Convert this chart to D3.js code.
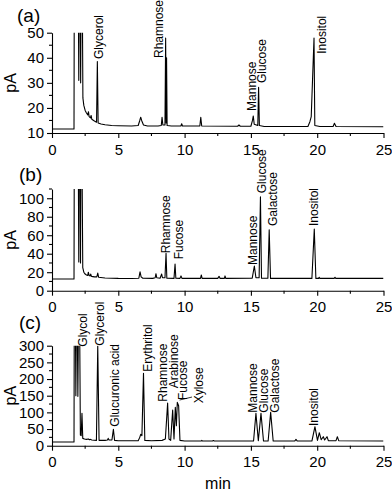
<!DOCTYPE html>
<html>
<head>
<meta charset="utf-8">
<script src="https://cdn.jsdelivr.net/npm/d3@7"></script>
<style>
  body { margin: 0; background: #fff; }
  text { font-family: Arial, 'Liberation Sans', sans-serif; fill: #000; }
</style>
</head>
<body>
<svg id="chart" width="392" height="491"></svg>
<script>
// x axis (min)
const xTicks = [0, 5, 10, 15, 20, 25]

// (a) trace: [min, pA]
const traceA = [
  [0, 11.6], [1.66, 11.6], [1.68, 70], [1.98, 70], [2.02, 31], [2.06, 70], [2.13, 70], [2.16, 30],
  [2.2, 70], [2.28, 70], [2.33, 24], [2.4, 21], [2.5, 19], [2.6, 18], [2.7, 17.2], [2.75, 18.5],
  [2.8, 16.5], [2.9, 16], [2.95, 17], [3.0, 15.5], [3.2, 14.8], [3.36, 14.3], [3.42, 38.5], [3.48, 14],
  [3.7, 13.6], [4.0, 13.3], [4.5, 13], [5, 12.9], [6, 12.8], [6.5, 13], [6.62, 15], [6.69, 16.3],
  [6.76, 15], [6.9, 13.2], [7.2, 12.8], [8.0, 12.8], [8.24, 13], [8.3, 16.3], [8.36, 13.2], [8.52, 13.2],
  [8.57, 47.9], [8.61, 14], [8.64, 40], [8.68, 13], [9.0, 12.8], [9.72, 12.8], [9.78, 13.7], [9.84, 12.8],
  [11.15, 12.8], [11.22, 16.3], [11.29, 12.8], [14.0, 12.7], [14.1, 13.2], [14.2, 12.7], [15.0, 12.7],
  [15.12, 15], [15.18, 16.8], [15.25, 13.5], [15.52, 13], [15.58, 28.2], [15.64, 13], [16, 12.6],
  [19.3, 12.6], [19.45, 14.5], [19.55, 16.5], [19.76, 47.9], [19.82, 13], [20.2, 12.6], [21.2, 12.6],
  [21.3, 13.9], [21.42, 12.6], [25, 12.5]
]
const labelsA = [
  { name: 'Glycerol', t: 3.85, v: 39.5 },
  { name: 'Rhamnose', t: 8.37, v: 39.9 },
  { name: 'Mannose', t: 15.35, v: 18.8 },
  { name: 'Glucose', t: 16.14, v: 29.9 },
  { name: 'Inositol', t: 20.7, v: 41.6 }
]

// (b) trace
const traceB = [
  [0, 12.7], [1.66, 12.7], [1.68, 150], [1.98, 150], [2.02, 31], [2.05, 150], [2.12, 150], [2.15, 30],
  [2.18, 150], [2.26, 150], [2.32, 25], [2.4, 20], [2.5, 18], [2.6, 17], [2.7, 16.5], [2.74, 20],
  [2.8, 16.5], [2.88, 16], [2.92, 18], [2.98, 15.5], [3.2, 15], [3.38, 15], [3.45, 19], [3.52, 14.5],
  [4, 13.8], [5, 13.3], [6, 13.2], [6.55, 13.5], [6.64, 20.5], [6.72, 15], [6.85, 13.5], [7.6, 13.3],
  [7.78, 14], [7.84, 18.4], [7.9, 14], [8.15, 13.5], [8.27, 18], [8.33, 14], [8.52, 14], [8.6, 40.5],
  [8.66, 13.5], [9.2, 13.3], [9.28, 28.9], [9.34, 13.5], [9.65, 13.3], [9.73, 16], [9.8, 13.3],
  [11.2, 13.3], [11.26, 17], [11.32, 13.3], [12.5, 13.3], [12.6, 15.5], [12.68, 13.3], [13, 13.3],
  [13.05, 16], [13.1, 13.3], [15.1, 13.5], [15.26, 26.7], [15.38, 14], [15.62, 14], [15.72, 101.5],
  [15.8, 13.5], [16.28, 13.5], [16.38, 66], [16.48, 13.3], [19.6, 13.3], [19.78, 66.8], [19.9, 13.3],
  [20.1, 13.3], [20.15, 14.5], [20.2, 13.3], [21.28, 13.3], [21.34, 14.5], [21.4, 13.3], [25, 13.3]
]
const labelsB = [
  { name: 'Rhamnose', t: 8.9, v: 40.5 },
  { name: 'Fucose', t: 9.88, v: 34 },
  { name: 'Mannose', t: 15.44, v: 27.8 },
  { name: 'Glucose', t: 16.14, v: 105.4 },
  { name: 'Galactose', t: 16.99, v: 70 },
  { name: 'Inositol', t: 20.08, v: 70 }
]

// (c) trace
const traceC = [
  [0, 11], [1.66, 11], [1.68, 400], [1.76, 400], [1.8, 150], [1.84, 400], [1.9, 400], [1.95, 148],
  [2.0, 400], [2.08, 400], [2.14, 32], [2.2, 30], [2.26, 97], [2.32, 22], [2.45, 20], [2.6, 19],
  [2.75, 20], [2.82, 18], [2.9, 19], [3.0, 17], [3.35, 16], [3.45, 300], [3.55, 16], [4.0, 16],
  [4.18, 17], [4.24, 22], [4.3, 17], [4.52, 17], [4.63, 49], [4.72, 16], [5, 15], [6.5, 15],
  [6.62, 25], [6.69, 34], [6.78, 30], [6.9, 217], [7.0, 16], [7.5, 15], [8.3, 16], [8.55, 20],
  [8.72, 128], [8.82, 20], [8.95, 16], [9.1, 107], [9.2, 20], [9.3, 115], [9.38, 60], [9.45, 130],
  [9.55, 120], [9.65, 16], [10.0, 14], [11.25, 14], [11.3, 16], [11.35, 14], [12.1, 14], [12.17, 15.5],
  [12.24, 14], [15.2, 14], [15.38, 97], [15.56, 15], [15.76, 97], [15.95, 14], [16.3, 14], [16.49, 100],
  [16.68, 14], [18.3, 14], [18.4, 19], [18.5, 14], [19.6, 14], [19.83, 57], [20.02, 16], [20.16, 39],
  [20.3, 18], [20.46, 27], [20.56, 17], [20.74, 27], [20.84, 15], [21.42, 15], [21.52, 27], [21.62, 15],
  [25, 14]
]
const labelsC = [
  { name: 'Glycol', t: 2.66, v: 297 },
  { name: 'Glycerol', t: 3.92, v: 300 },
  { name: 'Glucuronic acid', t: 5.05, v: 57 },
  { name: 'Erythritol', t: 7.52, v: 222 },
  { name: 'Rhamnose', t: 8.65, v: 132 },
  { name: 'Arabinose', t: 9.53, v: 172 },
  { name: 'Fucose', t: 10.2, v: 137 },
  { name: 'Xylose', t: 11.35, v: 127 },
  { name: 'Mannose', t: 15.44, v: 99 },
  { name: 'Glucose', t: 16.3, v: 99 },
  { name: 'Galactose', t: 17.14, v: 99 },
  { name: 'Inositol', t: 20.08, v: 59 }
]
// leader from the Xylose peak to its label
const leaderC = [[9.62, 137], [10.56, 146]]

const yTicksA = [10, 20, 30, 40, 50]
const yTicksB = [0, 20, 40, 60, 80, 100]
const yTicksC = [0, 50, 100, 150, 200, 250, 300]

const svg = d3.select('#chart')
const x = d3.scaleLinear().domain([0, 25]).range([52, 383.5])

function drawPanel (cfg, idx) {
  const y = d3.scaleLinear().domain(cfg.domain).range(cfg.range)
  const g = svg.append('g')

  g.append('clipPath').attr('id', 'clip' + idx)
    .append('rect')
    .attr('x', x.range()[0]).attr('y', cfg.range[1])
    .attr('width', x.range()[1] - x.range()[0])
    .attr('height', cfg.range[0] - cfg.range[1])

  // trace
  const line = d3.line().x(d => x(d[0])).y(d => y(d[1]))
  g.append('path')
    .datum(cfg.trace)
    .attr('clip-path', 'url(#clip' + idx + ')')
    .attr('fill', 'none')
    .attr('stroke', '#000')
    .attr('stroke-width', 1.1)
    .attr('stroke-linejoin', 'round')
    .attr('d', line)

  if (cfg.leader) {
    g.append('path').datum(cfg.leader)
      .attr('fill', 'none').attr('stroke', '#000').attr('stroke-width', 0.8)
      .attr('d', line)
  }

  // x axis with minor ticks
  const xMinor = d3.range(0, 25.01, 2.5).filter(v => v % 5 !== 0)
  const xa = g.append('g').attr('transform', 'translate(0,' + cfg.range[0] + ')')
  xa.call(d3.axisBottom(x).tickValues(xTicks).tickSize(5).tickSizeOuter(0).tickPadding(3))
  xMinor.forEach(v => {
    xa.append('line').attr('x1', x(v)).attr('x2', x(v)).attr('y1', 0).attr('y2', 3)
      .attr('stroke', '#000').attr('stroke-width', 1.1)
  })

  // y axis with minor ticks
  const ya = g.append('g').attr('transform', 'translate(' + x.range()[0] + ',0)')
  ya.call(d3.axisLeft(y).tickValues(cfg.yTicks).tickSize(5).tickSizeOuter(0).tickPadding(3))
  const step = cfg.yTicks[1] - cfg.yTicks[0]
  d3.range(cfg.domain[0] + step / 2, cfg.domain[1] + 0.01, step).forEach(v => {
    ya.append('line').attr('x1', -3).attr('x2', 0).attr('y1', y(v)).attr('y2', y(v))
      .attr('stroke', '#000').attr('stroke-width', 1.1)
  })

  svg.selectAll('.domain').attr('stroke-width', 1.1)
  svg.selectAll('.tick line').attr('stroke-width', 1.1)
  g.selectAll('.tick text').style('font-size', '15px').attr('fill', '#000')
  xa.selectAll('.tick text').attr('dy', '0.9em')

  // peak labels
  g.selectAll('text.peak')
    .data(cfg.labels)
    .enter().append('text')
    .attr('class', 'peak')
    .attr('transform', d => 'translate(' + x(d.t) + ',' + y(d.v) + ') rotate(-90)')
    .style('font-size', '12px')
    .text(d => d.name)

  // panel letter and y title
  g.append('text').attr('x', cfg.letterX).attr('y', cfg.letterY)
    .style('font-size', '19px').text(cfg.letter)
  g.append('text')
    .attr('transform', 'translate(16,' + (cfg.range[0] + cfg.range[1]) / 2 + ') rotate(-90)')
    .attr('text-anchor', 'middle')
    .style('font-size', '16px')
    .text('pA')
}

const panels = [
  { domain: [10, 50], range: [133, 32.7], trace: traceA, labels: labelsA, yTicks: yTicksA, letter: '(a)', letterX: 17, letterY: 22 },
  { domain: [0, 110], range: [290.7, 189], trace: traceB, labels: labelsB, yTicks: yTicksB, letter: '(b)', letterX: 19, letterY: 181 },
  { domain: [0, 300], range: [445.7, 345.7], trace: traceC, labels: labelsC, yTicks: yTicksC, letter: '(c)', letterX: 19, letterY: 329, leader: leaderC }
]
panels.forEach(drawPanel)

svg.append('text').attr('x', 218).attr('y', 489)
  .attr('text-anchor', 'middle').style('font-size', '16px').text('min')
</script>
</body>
</html>
